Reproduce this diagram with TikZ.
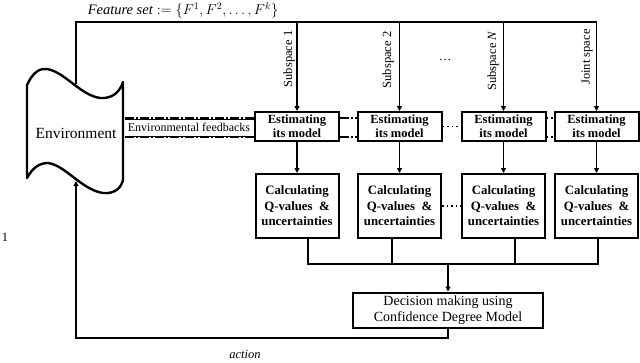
\documentclass[tikz,border=0pt]{standalone}
\usepackage{fontspec}
\setmainfont{Liberation Serif}
\usetikzlibrary{arrows.meta}
\begin{document}
\begin{tikzpicture}[x=1pt,y=-1pt,
  box/.style={draw, line width=2pt, align=center, inner sep=0pt},
  estbox/.style={box, minimum width=84pt, minimum height=29pt, font=\bfseries\fontsize{12.5}{14}\selectfont},
  calcbox/.style={box, minimum width=83pt, minimum height=64pt, font=\bfseries\fontsize{12.8}{15.5}\selectfont},
  decbox/.style={box, minimum width=190pt, minimum height=35pt, font=\fontsize{14}{16}\selectfont},
  conn/.style={line width=1.4pt},
  arr/.style={conn, -{Triangle[length=5pt,width=5pt]}},
  lab/.style={font=\fontsize{12.5}{14}\selectfont, inner sep=0pt},
  fb/.style={line width=2pt, dash pattern=on 9pt off 2pt on 2pt off 2pt},
  fbthin/.style={line width=0.5pt},
  dotline/.style={line width=1.3pt, dash pattern=on 1.5pt off 3pt},
  envline/.style={line width=2.4pt, line join=round},
]
\useasboundingbox (0,0) rectangle (640,362);

% Environment shape
\draw[envline] (123,180) -- (123,82)
  .. controls (120,92) and (112,99) .. (100,98)
  .. controls (80,95) and (65,72) .. (47,69)
  .. controls (40,68) and (33,72) .. (27,85)
  -- (27,178)
  .. controls (33,167) and (40,163) .. (48,163)
  .. controls (65,165) and (82,190) .. (103,193)
  .. controls (115,194) and (121,188) .. (123,180);
\node[font=\fontsize{15.5}{17}\selectfont] (env) at (76,133) {Environment};
\coordinate (envtop) at (76,84);
\coordinate (envbot) at (76,181);

% Feature set line
\node[font=\fontsize{14.5}{16}\selectfont, inner sep=0pt] (fs) at (183,10) {\textit{Feature set} $:=\{F^{1}, F^{2}, \ldots, F^{k}\}$};
\coordinate (tl) at (76,22);

% Estimating boxes
\node[estbox] (est1) at (297,126.5) {Estimating\\its model};
\node[estbox] (est2) at (399.5,126.5) {Estimating\\its model};
\node[estbox] (est3) at (503.5,126.5) {Estimating\\its model};
\node[estbox] (est4) at (596.5,126.5) {Estimating\\its model};

% Calculating boxes
\node[calcbox] (calc1) at (297,206) {Calculating\\Q-values \ \&\\uncertainties};
\node[calcbox] (calc2) at (399.5,206) {Calculating\\Q-values \ \&\\uncertainties};
\node[calcbox] (calc3) at (503.5,206) {Calculating\\Q-values \ \&\\uncertainties};
\node[calcbox] (calc4) at (596.5,206) {Calculating\\Q-values \ \&\\uncertainties};

% Decision
\node[decbox] (dec) at (448,310) {Decision making using\\Confidence Degree Model};

% top line
\coordinate (tr) at (596.5,22);
\draw[conn, line width=2pt] (envtop) -- (tl) -- (tr);
\draw[arr] (est1.north |- tl) -- (est1.north);
\draw[arr] (est2.north |- tl) -- (est2.north);
\draw[arr] (est3.north |- tl) -- (est3.north);
\draw[arr] (tr) -- (est4.north);

% subspace labels
\node[lab, rotate=90] (s1) at (289,59) {Subspace 1};
\node[lab, rotate=90] (s2) at (388,60) {Subspace 2};
\node[lab] (sd) at (445,60) {\dots};
\node[lab, rotate=90] (sn) at (493,61) {Subspace \textit{N}};
\node[lab, rotate=90] (js) at (587,57) {Joint space};

% est -> calc
\draw[arr] (est1.south) -- (calc1.north);
\draw[arr] (est2.south) -- (calc2.north);
\draw[arr] (est3.south) -- (calc3.north);
\draw[arr] (est4.south) -- (calc4.north);

% feedback lines
\coordinate (fa) at (124.5,118);
\coordinate (fbb) at (124.5,137);
\draw[fb] (fa) -- (est1.west |- fa);
\draw[fbthin] ([yshift=-1.2pt]fa) -- ([yshift=-1.2pt]est1.west |- fa);
\draw[fb] (fbb) -- (est1.west |- fbb);
\draw[fbthin] ([yshift=1.2pt]fbb) -- ([yshift=1.2pt]est1.west |- fbb);
\node[lab, font=\fontsize{12}{14}\selectfont, fill=white, inner xsep=1pt] (fbl) at (189,127.5) {Environmental feedbacks};

% between est boxes
\draw[fb] (est1.east |- fa) -- (est2.west |- fa);
\draw[fb] (est1.east |- fbb) -- (est2.west |- fbb);
\draw[dotline] (est2.east) -- (est3.west);
\draw[dotline] (est3.east |- fa) -- (est4.west |- fa);
\draw[dotline] (est3.east |- fbb) -- (est4.west |- fbb);
\draw[dotline] (calc2.east) -- (calc3.west);

% bus
\coordinate (b1) at (308,264);
\coordinate (b2) at (392,264);
\coordinate (b3) at (515,264);
\coordinate (b4) at (598,264);
\coordinate (bm) at (448,264);
\draw[conn] (calc1.south -| b1) -- (b1) -- (b4) -- (calc4.south -| b4);
\draw[conn] (calc2.south -| b2) -- (b2);
\draw[conn] (calc3.south -| b3) -- (b3);
\draw[arr] (bm) -- (dec.north);

% action
\coordinate (act) at (76,338);
\draw[arr] (dec.south) -- (dec.south |- act) -- (act) -- (envbot);
\node[lab, font=\itshape\fontsize{12.5}{14}\selectfont] (actl) at (245,354) {action};

\node[lab] (one) at (5,237) {1};
\end{tikzpicture}
\end{document}
